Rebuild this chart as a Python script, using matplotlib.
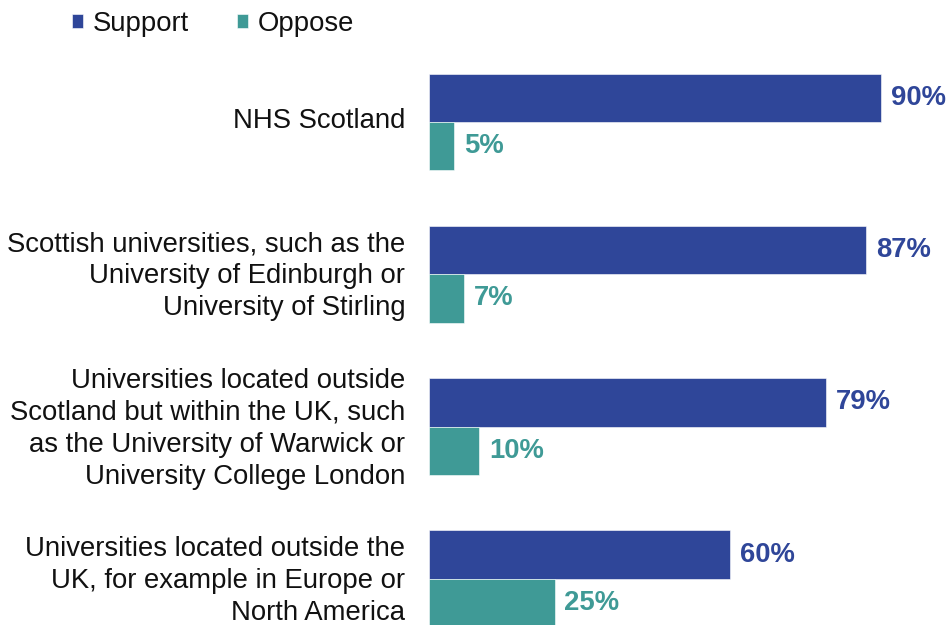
import numpy as np
import matplotlib.pyplot as plt
from matplotlib.transforms import ScaledTranslation

plt.rcParams['font.family'] = ['Liberation Sans', 'DejaVu Sans']

categories = [
    "NHS Scotland",
    "Scottish universities, such as the\nUniversity of Edinburgh or\nUniversity of Stirling",
    "Universities located outside\nScotland but within the UK, such\nas the University of Warwick or\nUniversity College London",
    "Universities located outside the\nUK, for example in Europe or\nNorth America",
]
support = [90, 87, 79, 60]
oppose = [5, 7, 10, 25]

support_color = "#2F4699"
oppose_color = "#3F9A96"
fs = 19.8

fig = plt.figure(figsize=(9.48, 6.25), dpi=100)
ax = fig.add_axes([0.4525, 0.0, 0.53, 0.904])

y = np.arange(len(categories))
h = 0.318
ax.barh(y - h / 2, support, height=h, color=support_color, label="Support",
        edgecolor="white", linewidth=0.4)
ax.barh(y + h / 2, oppose, height=h, color=oppose_color, label="Oppose",
        edgecolor="white", linewidth=0.4)

# value labels
for i in range(len(categories)):
    ax.annotate(f"{support[i]}%", (support[i], y[i] - h / 2), xytext=(7, 0),
                textcoords="offset points", va="center", ha="left",
                fontsize=fs, fontweight="bold", color=support_color)
    ax.annotate(f"{oppose[i]}%", (oppose[i], y[i] + h / 2), xytext=(7, 0),
                textcoords="offset points", va="center", ha="left",
                fontsize=fs, fontweight="bold", color=oppose_color)

ax.set_xlim(0, 100)
ax.set_ylim(3.303, -0.407)
ax.set_yticks(y)
ax.set_yticklabels(categories, fontsize=fs, linespacing=1.3, color="#111111")
ax.tick_params(axis="y", length=0, pad=17)
# nudge the labels up a little
shift = ScaledTranslation(0, 4 / 100, fig.dpi_scale_trans)
for lab in ax.get_yticklabels():
    lab.set_transform(lab.get_transform() + shift)
ax.set_xticks([])
for s in ax.spines.values():
    s.set_visible(False)

leg = fig.legend(loc="center left", bbox_to_anchor=(0.064, 0.962), ncol=2,
                 frameon=False, fontsize=fs, handlelength=0.43, handleheight=0.43,
                 handletextpad=0.32, columnspacing=1.75, borderaxespad=0)
for t in leg.get_texts():
    t.set_color("#111111")

fig.savefig("out.png", dpi=100)
